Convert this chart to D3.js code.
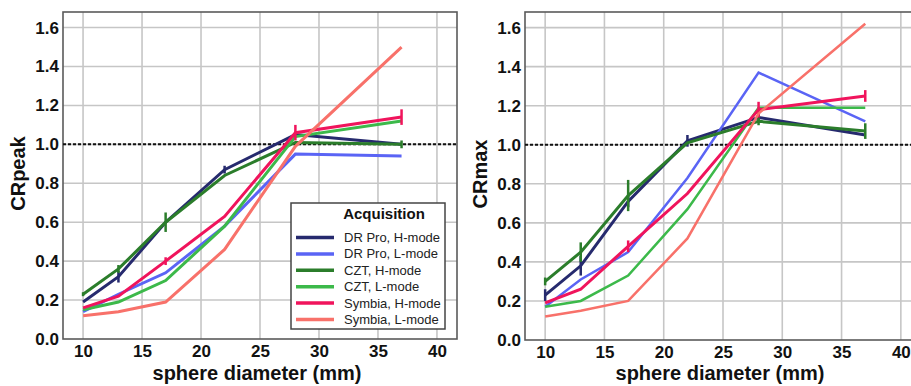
<!DOCTYPE html>
<html>
<head>
<meta charset="utf-8">
<script src="https://cdn.jsdelivr.net/npm/d3@7"></script>
<style>
  body { margin: 0; background: #fff; }
  svg { display: block; font-family: "Liberation Sans", Arial, sans-serif; }
</style>
</head>
<body>
<svg id="chart" width="911" height="386"></svg>
<script>
// Data
const diameters = [10, 13, 17, 22, 28, 37];
const xTicks = [10, 15, 20, 25, 30, 35, 40];
const yTicks = [0, 0.2, 0.4, 0.6, 0.8, 1.0, 1.2, 1.4, 1.6];

const seriesNames = ['DR Pro, H-mode', 'DR Pro, L-mode', 'CZT, H-mode', 'CZT, L-mode', 'Symbia, H-mode', 'Symbia, L-mode'];
const seriesColors = ['#262a6e', '#5a64f5', '#2b7d2b', '#3cb94a', '#f0145c', '#f8716a'];

// CRpeak values (left panel)
const peakDrProH = [0.19, 0.32, 0.60, 0.87, 1.05, 1.00];
const peakDrProL = [0.14, 0.23, 0.34, 0.58, 0.95, 0.94];
const peakCztH = [0.23, 0.36, 0.60, 0.84, 1.01, 1.00];
const peakCztL = [0.15, 0.19, 0.30, 0.58, 1.04, 1.12];
const peakSymbiaH = [0.16, 0.22, 0.40, 0.63, 1.06, 1.14];
const peakSymbiaL = [0.12, 0.14, 0.19, 0.46, 0.99, 1.50];

// CRpeak error half-widths
const peakErrDrProH = [0, 0.03, 0, 0.02, 0, 0];
const peakErrCztH = [0.01, 0.02, 0.05, 0, 0, 0.02];
const peakErrSymbiaH = [0, 0, 0.02, 0, 0.04, 0.04];

// CRmax values (right panel)
const maxDrProH = [0.23, 0.38, 0.71, 1.02, 1.14, 1.05];
const maxDrProL = [0.17, 0.31, 0.45, 0.83, 1.37, 1.12];
const maxCztH = [0.30, 0.45, 0.74, 1.01, 1.12, 1.07];
const maxCztL = [0.17, 0.20, 0.33, 0.67, 1.19, 1.19];
const maxSymbiaH = [0.19, 0.26, 0.48, 0.75, 1.18, 1.25];
const maxSymbiaL = [0.12, 0.15, 0.20, 0.52, 1.16, 1.62];

// CRmax error half-widths
const maxErrDrProH = [0.03, 0.05, 0.03, 0.03, 0.02, 0];
const maxErrCztH = [0.02, 0.05, 0.08, 0, 0.02, 0.04];
const maxErrSymbiaH = [0, 0, 0.03, 0, 0.04, 0.03];

const zeros = [0, 0, 0, 0, 0, 0];

const panels = [
    {
        title: 'CRpeak',
        left: 63, right: 457, top: 12, bottom: 339,
        titleX: 18,
        lineWidths: [3, 3, 3, 3, 3, 3],
        values: [peakDrProH, peakDrProL, peakCztH, peakCztL, peakSymbiaH, peakSymbiaL],
        errors: [peakErrDrProH, zeros, peakErrCztH, zeros, peakErrSymbiaH, zeros],
        legend: true
    },
    {
        title: 'CRmax',
        left: 525, right: 921, top: 12, bottom: 340,
        titleX: 480,
        lineWidths: [3, 2.5, 3, 2.5, 3, 2.5],
        values: [maxDrProH, maxDrProL, maxCztH, maxCztL, maxSymbiaH, maxSymbiaL],
        errors: [maxErrDrProH, zeros, maxErrCztH, zeros, maxErrSymbiaH, zeros],
        legend: false
    }
];

const svg = d3.select('#chart');

function drawPanel(p) {
    const x = d3.scaleLinear().domain([8.3, 41.7]).range([p.left, p.right]);
    const y = d3.scaleLinear().domain([0, 1.68]).range([p.bottom, p.top]);
    const g = svg.append('g');

    // Grid
    g.append('g').selectAll('line.vg').data(xTicks).join('line')
        .attr('x1', d => x(d)).attr('x2', d => x(d))
        .attr('y1', p.top).attr('y2', p.bottom)
        .attr('stroke', '#c6c6c6').attr('stroke-width', 1.6);
    g.append('g').selectAll('line.hg').data(yTicks.slice(1)).join('line')
        .attr('x1', p.left).attr('x2', p.right)
        .attr('y1', d => y(d)).attr('y2', d => y(d))
        .attr('stroke', '#c6c6c6').attr('stroke-width', 1.6);

    // Frame
    g.append('rect')
        .attr('x', p.left).attr('y', p.top)
        .attr('width', p.right - p.left).attr('height', p.bottom - p.top)
        .attr('fill', 'none').attr('stroke', '#5a5a5a').attr('stroke-width', 1.6);

    // Axes (labels only)
    const xAxis = g.append('g')
        .attr('transform', `translate(0,${p.bottom})`)
        .call(d3.axisBottom(x).tickValues(xTicks).tickSize(0).tickPadding(6));
    const yAxis = g.append('g')
        .attr('transform', `translate(${p.left},0)`)
        .call(d3.axisLeft(y).tickValues(yTicks).tickFormat(d3.format('.1f')).tickSize(0).tickPadding(4));
    [xAxis, yAxis].forEach(a => {
        a.select('.domain').remove();
        a.selectAll('text')
            .attr('font-size', 17).attr('font-weight', 'bold').attr('fill', '#111')
            .attr('font-family', '"Liberation Sans", Arial, sans-serif');
    });

    // Reference line at 1.0
    g.append('line')
        .attr('x1', p.left).attr('x2', p.right)
        .attr('y1', y(1)).attr('y2', y(1))
        .attr('stroke', '#111').attr('stroke-width', 2)
        .attr('stroke-dasharray', '3,2');

    // Series lines and error bars
    const line = d3.line().x((d, i) => x(diameters[i])).y(d => y(d));
    p.values.forEach((vals, s) => {
        g.append('path')
            .datum(vals)
            .attr('d', line)
            .attr('fill', 'none')
            .attr('stroke', seriesColors[s])
            .attr('stroke-width', p.lineWidths[s])
            .attr('stroke-linejoin', 'miter');

        g.append('g').selectAll('line')
            .data(vals.map((v, i) => ({ v, e: p.errors[s][i], d: diameters[i] })).filter(o => o.e > 0))
            .join('line')
            .attr('x1', o => x(o.d)).attr('x2', o => x(o.d))
            .attr('y1', o => y(o.v - o.e)).attr('y2', o => y(o.v + o.e))
            .attr('stroke', seriesColors[s])
            .attr('stroke-width', 2.5);
    });

    // Axis titles
    g.append('text')
        .attr('x', (p.left + p.right) / 2 - 3)
        .attr('y', 380)
        .attr('text-anchor', 'middle')
        .attr('font-size', 20).attr('font-weight', 'bold').attr('fill', '#111')
        .text('sphere diameter (mm)');
    g.append('text')
        .attr('transform', `translate(${p.titleX + 7},${(p.top + p.bottom) / 2 - 2}) rotate(-90)`)
        .attr('text-anchor', 'middle')
        .attr('font-size', 20).attr('font-weight', 'bold').attr('fill', '#111')
        .text(p.title);

    if (p.legend) drawLegend(g);
}

function drawLegend(g) {
    const lg = g.append('g');
    lg.append('rect')
        .attr('x', 291).attr('y', 203).attr('width', 154).attr('height', 126)
        .attr('fill', '#fff').attr('stroke', '#444').attr('stroke-width', 1.5);
    lg.append('text')
        .attr('x', 384).attr('y', 219)
        .attr('text-anchor', 'middle')
        .attr('font-size', 15).attr('font-weight', 'bold').attr('fill', '#111')
        .text('Acquisition');
    seriesNames.forEach((name, i) => {
        const cy = 237.5 + i * 16.4;
        lg.append('line')
            .attr('x1', 296).attr('x2', 334)
            .attr('y1', cy).attr('y2', cy)
            .attr('stroke', seriesColors[i]).attr('stroke-width', 3.5);
        lg.append('text')
            .attr('x', 344).attr('y', cy + 4.5)
            .attr('font-size', 13).attr('fill', '#222')
            .text(name);
    });
}

panels.forEach(drawPanel);
</script>
</body>
</html>
